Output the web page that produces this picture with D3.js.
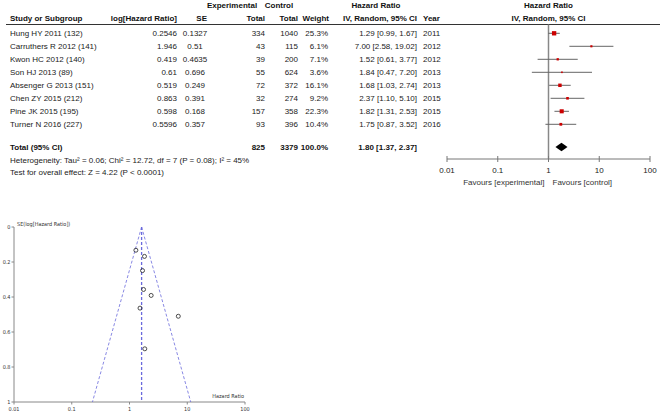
<!DOCTYPE html>
<html><head><meta charset="utf-8">
<script src="https://cdn.jsdelivr.net/npm/d3@7/dist/d3.min.js"></script>
<style>
body{margin:0;background:#fff;}
svg{display:block;font-family:"Liberation Sans",Arial,sans-serif;}
</style></head>
<body><svg id="c" width="660" height="414"></svg>
<script>
const studies=["Hung HY 2011 (132)","Carruthers R 2012 (141)","Kwon HC 2012 (140)","Son HJ 2013 (89)","Absenger G 2013 (151)","Chen ZY 2015 (212)","Pine JK 2015 (195)","Turner N 2016 (227)"];
const logHR=["0.2546","1.946","0.419","0.61","0.519","0.863","0.598","0.5596"];
const se=["0.1327","0.51","0.4635","0.696","0.249","0.391","0.168","0.357"];
const expTotal=[334,43,39,55,72,32,157,93];
const ctrlTotal=[1040,115,200,624,372,274,358,396];
const weight=[25.3,6.1,7.1,3.6,16.1,9.2,22.3,10.4];
const hr=[1.29,7.00,1.52,1.84,1.68,2.37,1.82,1.75];
const lo=[0.99,2.58,0.61,0.47,1.03,1.10,1.31,0.87];
const hi=[1.67,19.02,3.77,7.20,2.74,5.10,2.53,3.52];
const years=[2011,2012,2012,2013,2013,2015,2015,2016];
const pooled={hr:1.80,lo:1.37,hi:2.37,exp:825,ctrl:3379,weight:"100.0%"};
const heterogeneity="Heterogeneity: Tau² = 0.06; Chi² = 12.72, df = 7 (P = 0.08); I² = 45%";
const overall="Test for overall effect: Z = 4.22 (P < 0.0001)";
const forestTicks=[0.01,0.1,1,10,100];
const forestTickLabels=["0.01","0.1","1","10","100"];
const funnelXTicks=[0.01,0.1,1,10,100];
const funnelXTickLabels=["0.01","0.1","1","10","100"];
const funnelYTicks=[0,0.2,0.4,0.6,0.8,1];
const funnelYTickLabels=["0","0.2","0.4","0.6","0.8","1"];
const funnelCenter=1.62;

const svg=d3.select("#c");
const F=8;
const fmt=d3.format(".2f");
const ciText=(h,l,u)=>`${fmt(h)} [${fmt(l)}, ${fmt(u)}]`;

// ---------- forest plot ----------
const x=d3.scaleLog().domain([0.01,100]).range([447,650]);
const y=d3.scaleLinear().domain([0,7]).range([33.3,124.3]);
const yTotal=147, yAxis=159;

const hdr=svg.append("g").attr("font-size",F).attr("font-weight","bold").attr("fill","#111");
const h1=5.5, h2=18.5;
hdr.append("text").attr("x",232).attr("y",h1).attr("dy","0.35em").attr("text-anchor","middle").text("Experimental");
hdr.append("text").attr("x",279).attr("y",h1).attr("dy","0.35em").attr("text-anchor","middle").text("Control");
hdr.append("text").attr("x",376).attr("y",h1).attr("dy","0.35em").attr("text-anchor","middle").text("Hazard Ratio");
hdr.append("text").attr("x",x(1)).attr("y",h1).attr("dy","0.35em").attr("text-anchor","middle").text("Hazard Ratio");
hdr.append("text").attr("x",10).attr("y",h2).attr("dy","0.35em").text("Study or Subgroup");
hdr.append("text").attr("x",177).attr("y",h2).attr("dy","0.35em").attr("text-anchor","end").text("log[Hazard Ratio]");
hdr.append("text").attr("x",207).attr("y",h2).attr("dy","0.35em").attr("text-anchor","end").text("SE");
hdr.append("text").attr("x",265).attr("y",h2).attr("dy","0.35em").attr("text-anchor","end").text("Total");
hdr.append("text").attr("x",298).attr("y",h2).attr("dy","0.35em").attr("text-anchor","end").text("Total");
hdr.append("text").attr("x",329).attr("y",h2).attr("dy","0.35em").attr("text-anchor","end").text("Weight");
hdr.append("text").attr("x",417).attr("y",h2).attr("dy","0.35em").attr("text-anchor","end").text("IV, Random, 95% CI");
hdr.append("text").attr("x",423).attr("y",h2).attr("dy","0.35em").text("Year");
hdr.append("text").attr("x",x(1)).attr("y",h2).attr("dy","0.35em").attr("text-anchor","middle").text("IV, Random, 95% CI");
svg.append("line").attr("x1",6).attr("x2",660).attr("y1",24.5).attr("y2",24.5).attr("stroke","#333").attr("stroke-width",1);

const rows=svg.append("g").attr("font-size",F).attr("fill","#222");
studies.forEach((s,i)=>{
  const g=rows.append("g").attr("transform",`translate(0,${y(i)})`);
  g.append("text").attr("x",10).attr("dy","0.35em").text(s);
  g.append("text").attr("x",177).attr("dy","0.35em").attr("text-anchor","end").text(logHR[i]);
  g.append("text").attr("x",195).attr("dy","0.35em").attr("text-anchor","middle").text(se[i]);
  g.append("text").attr("x",265).attr("dy","0.35em").attr("text-anchor","end").text(expTotal[i]);
  g.append("text").attr("x",298).attr("dy","0.35em").attr("text-anchor","end").text(ctrlTotal[i]);
  g.append("text").attr("x",328).attr("dy","0.35em").attr("text-anchor","end").text(weight[i].toFixed(1)+"%");
  g.append("text").attr("x",417).attr("dy","0.35em").attr("text-anchor","end").text(ciText(hr[i],lo[i],hi[i]));
  g.append("text").attr("x",423).attr("dy","0.35em").text(years[i]);
});
const tg=svg.append("g").attr("font-size",F).attr("font-weight","bold").attr("fill","#111").attr("transform",`translate(0,${yTotal})`);
tg.append("text").attr("x",10).attr("dy","0.35em").text("Total (95% CI)");
tg.append("text").attr("x",265).attr("dy","0.35em").attr("text-anchor","end").text(pooled.exp);
tg.append("text").attr("x",298).attr("dy","0.35em").attr("text-anchor","end").text(pooled.ctrl);
tg.append("text").attr("x",328).attr("dy","0.35em").attr("text-anchor","end").text(pooled.weight);
tg.append("text").attr("x",417).attr("dy","0.35em").attr("text-anchor","end").text(ciText(pooled.hr,pooled.lo,pooled.hi));
svg.append("text").attr("font-size",F).attr("fill","#222").attr("x",10).attr("y",160).attr("dy","0.35em").text(heterogeneity);
svg.append("text").attr("font-size",F).attr("fill","#222").attr("x",10).attr("y",172).attr("dy","0.35em").text(overall);

// null line
svg.append("line").attr("x1",x(1)).attr("x2",x(1)).attr("y1",24.5).attr("y2",yAxis).attr("stroke","#888").attr("stroke-width",1.5);
// CIs
const ci=svg.append("g");
hr.forEach((h,i)=>{
  ci.append("line").attr("x1",x(lo[i])).attr("x2",x(hi[i])).attr("y1",y(i)).attr("y2",y(i)).attr("stroke","#666").attr("stroke-width",1);
  const s=8.6*Math.sqrt(weight[i]/100);
  ci.append("rect").attr("x",x(h)-s/2).attr("y",y(i)-s/2).attr("width",s).attr("height",s).attr("fill","#cc0000");
});
// diamond
svg.append("path").attr("d",`M${x(pooled.lo)},${yTotal}L${x(pooled.hr)},${yTotal-4.2}L${x(pooled.hi)},${yTotal}L${x(pooled.hr)},${yTotal+4.2}Z`).attr("fill","#000");
// axis
const ax=svg.append("g");
ax.append("line").attr("x1",x(0.01)).attr("x2",x(100)).attr("y1",yAxis).attr("y2",yAxis).attr("stroke","#777").attr("stroke-width",1);
forestTicks.forEach((t,i)=>{
  ax.append("line").attr("x1",x(t)).attr("x2",x(t)).attr("y1",yAxis-3).attr("y2",yAxis+3).attr("stroke","#777");
  ax.append("text").attr("x",x(t)).attr("y",170).attr("dy","0.35em").attr("text-anchor","middle").attr("font-size",F).attr("fill","#222").text(forestTickLabels[i]);
});
ax.append("text").attr("x",x(1)-4).attr("y",182).attr("dy","0.35em").attr("text-anchor","end").attr("font-size",F).attr("fill","#333").text("Favours [experimental]");
ax.append("text").attr("x",x(1)+4).attr("y",182).attr("dy","0.35em").attr("font-size",F).attr("fill","#333").text("Favours [control]");

// ---------- funnel plot ----------
const fx=d3.scaleLog().domain([0.01,100]).range([14,245]);
const fy=d3.scaleLinear().domain([0,1]).range([227,402]);
const ff='"Liberation Sans Narrow","DejaVu Sans Condensed",sans-serif';
const fg=svg.append("g").attr("font-family",ff).attr("font-size",5.5).attr("fill","#333");
fg.append("line").attr("x1",fx(0.01)).attr("x2",fx(0.01)).attr("y1",fy(0)).attr("y2",fy(1)).attr("stroke","#888");
fg.append("line").attr("x1",fx(0.01)).attr("x2",fx(100)).attr("y1",fy(1)).attr("y2",fy(1)).attr("stroke","#888");
funnelYTicks.forEach((t,i)=>{
  fg.append("line").attr("x1",fx(0.01)-2.5).attr("x2",fx(0.01)).attr("y1",fy(t)).attr("y2",fy(t)).attr("stroke","#888");
  fg.append("text").attr("x",fx(0.01)-3.5).attr("y",fy(t)).attr("dy","0.35em").attr("text-anchor","end").text(funnelYTickLabels[i]);
});
funnelXTicks.forEach((t,i)=>{
  fg.append("line").attr("x1",fx(t)).attr("x2",fx(t)).attr("y1",fy(1)).attr("y2",fy(1)+2.5).attr("stroke","#888");
  fg.append("text").attr("x",fx(t)).attr("y",fy(1)+7.5).attr("dy","0.35em").attr("text-anchor","middle").text(funnelXTickLabels[i]);
});
fg.append("text").attr("x",fx(0.01)+3).attr("y",fy(0)-3).attr("dy","0.35em").text("SE(log[Hazard Ratio])");
fg.append("text").attr("x",fx(100)-1).attr("y",fy(1)-4).attr("text-anchor","end").text("Hazard Ratio");
// funnel lines
const lc=Math.log(funnelCenter);
const dash="3,2";
fg.append("line").attr("x1",fx(funnelCenter)).attr("x2",fx(funnelCenter)).attr("y1",fy(0)).attr("y2",fy(1)).attr("stroke","#6a6adc").attr("stroke-width",1.3).attr("stroke-dasharray",dash);
[-1,1].forEach(s=>{
  fg.append("line").attr("x1",fx(funnelCenter)).attr("y1",fy(0)).attr("x2",fx(Math.exp(lc+s*1.96))).attr("y2",fy(1)).attr("stroke","#6a6adc").attr("stroke-width",0.8).attr("stroke-dasharray",dash);
});
// points
logHR.forEach((v,i)=>{
  fg.append("circle").attr("cx",fx(Math.exp(+v))).attr("cy",fy(+se[i])).attr("r",2).attr("fill","none").attr("stroke","#222").attr("stroke-width",0.8);
});
</script></body></html>
